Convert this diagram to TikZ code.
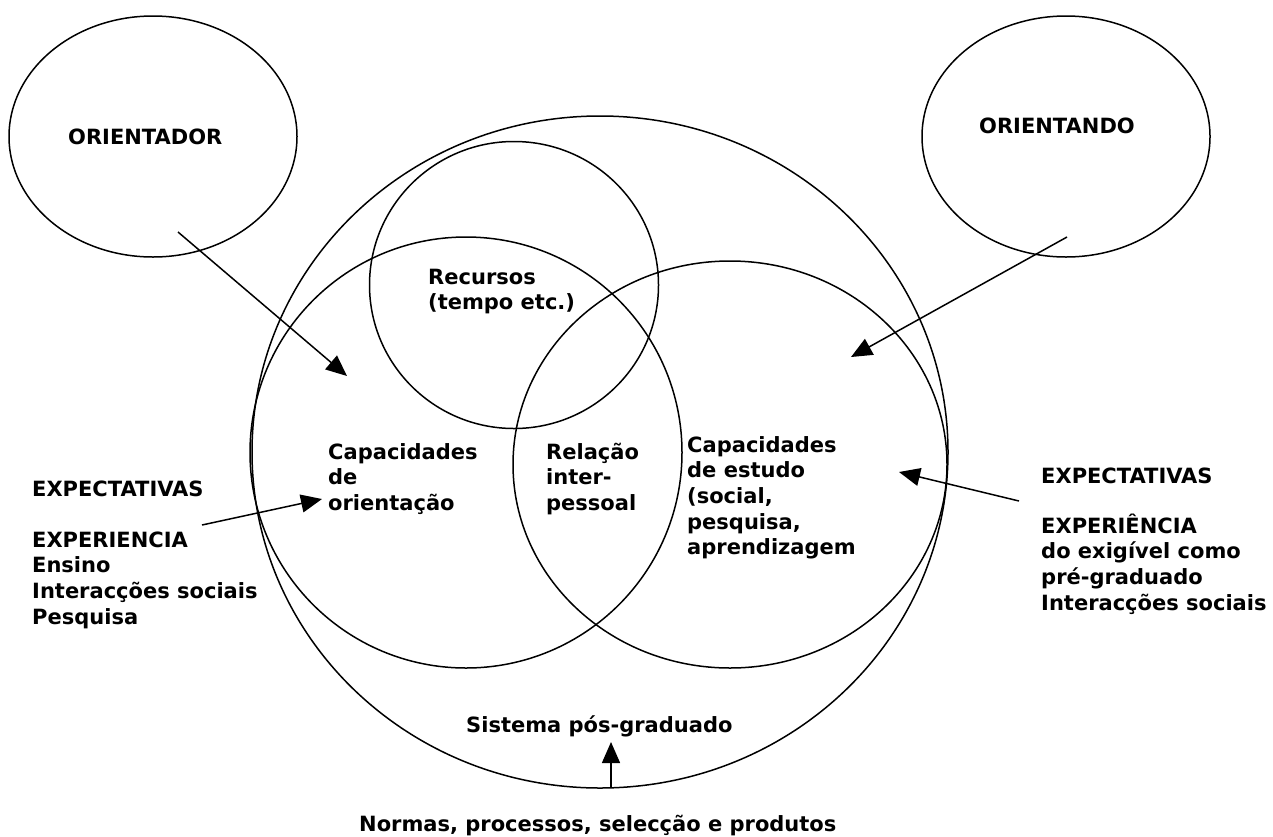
\documentclass[tikz,border=0pt]{standalone}
\usepackage{fontspec}
\setmainfont{DejaVu Sans}
\usetikzlibrary{arrows.meta,shapes.geometric}

\begin{document}
\begin{tikzpicture}[x=1pt,y=-1pt,
        ring/.style={draw,ellipse,line width=1.5pt,inner sep=0pt},
        lbl/.style={anchor=base west,align=left,inner sep=0pt,font=\fontsize{21}{25.7}\selectfont\bfseries},
        pointer/.style={-{Triangle[length=21pt,width=18pt]},line width=1.5pt}]
        \useasboundingbox (0,0) rectangle (1273,836);

        \node[ring,minimum width=288pt,minimum height=241pt] (orientador) at (153,136.5) {};
        \node[ring,minimum width=288pt,minimum height=241pt] (orientando) at (1066,136.5) {};
        \node[ring,minimum width=696pt,minimum height=672pt] (sistema) at (600,452) {};
        \node[ring,minimum width=289pt,minimum height=287pt] (recursos) at (514,285) {};
        \node[ring,minimum width=432pt,minimum height=431pt] (orientacao) at (466,452.5) {};
        \node[ring,minimum width=434pt,minimum height=407pt] (estudo) at (730,464.5) {};

        \node[lbl] (torientador) at (68,144) {ORIENTADOR};
        \node[lbl] (torientando) at (979,133) {ORIENTANDO};
        \node[lbl] (trecursos) at (428,309.7) {Recursos\\(tempo etc.)};
        \node[lbl] (torientacao) at (328,510.4) {Capacidades\\de\\orientação};
        \node[lbl] (trelacao) at (546,510.4) {Relação\\inter-\\pessoal};
        \node[lbl] (testudo) at (687,554.8) {Capacidades\\de estudo\\(social,\\pesquisa,\\aprendizagem};
        \node[lbl] (tsistema) at (466,732) {Sistema pós-graduado};
        \node[lbl] (tnormas) at (359,831) {Normas, processos, selecção e produtos};
        \node[lbl] (tesq) at (32,624.1) {EXPECTATIVAS\\[25.3pt]EXPERIENCIA\\Ensino\\Interacções sociais\\Pesquisa};
        \node[lbl] (tdir) at (1041,610.1) {EXPECTATIVAS\\[24.3pt]EXPERIÊNCIA\\do exigível como\\pré-graduado\\Interacções sociais};

        \coordinate (o1) at (178,232);
        \coordinate (o2) at (347,376);
        \coordinate (d1) at (1067,237);
        \coordinate (d2) at (851,357);
        \coordinate (e1) at (202,525);
        \coordinate (e2) at (322,499);
        \coordinate (x1) at (1019,501);
        \coordinate (x2) at (899,472);
        \coordinate (n1) at (611,788);
        \coordinate (n2) at (611,742);

        \draw[pointer] (o1) -- (o2);
        \draw[pointer] (d1) -- (d2);
        \draw[pointer] (e1) -- (e2);
        \draw[pointer] (x1) -- (x2);
        \draw[pointer] (n1) -- (n2);
\end{tikzpicture}
\end{document}
